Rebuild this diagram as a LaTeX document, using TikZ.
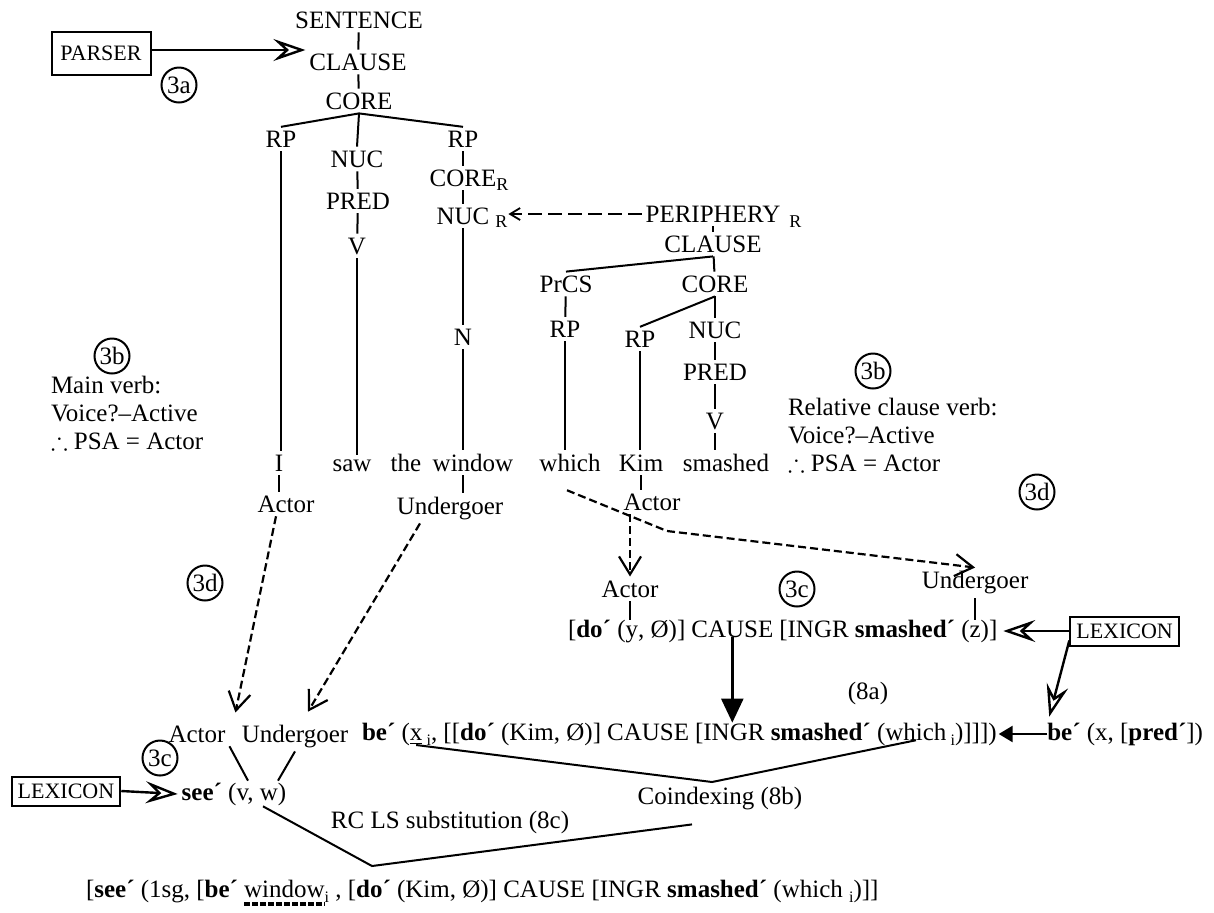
\documentclass[tikz,border=0pt]{standalone}
\usepackage{fontspec}
\setmainfont{Liberation Serif}
\usepackage{amssymb}
\usetikzlibrary{arrows.meta,calc,positioning}
\newcommand{\subi}{\raisebox{-0.5ex}{\footnotesize i}}
\tikzset{
	lbl/.style={inner sep=1.5pt, font=\fontsize{12.5}{14}\selectfont},
	word/.style={lbl, anchor=base},
	subR/.style={inner sep=0pt, font=\fontsize{9}{10}\selectfont},
	bit/.style={inner sep=0pt, outer sep=0pt, anchor=base west, font=\fontsize{12.5}{14}\selectfont},
	lexbox/.style={draw, line width=1pt, inner xsep=3pt, inner ysep=0pt, minimum height=14.5pt, font=\fontsize{11}{13}\selectfont},
	circ/.style={draw, circle, line width=1pt, inner sep=0pt, minimum size=17.5pt, font=\fontsize{12.5}{14}\selectfont},
	sidenote/.style={lbl, align=left, anchor=north west, font=\fontsize{12.5}{14}\selectfont},
	openarrow/.style={line width=1.2pt, -{Stealth[open, length=16pt, width=11pt, inset=6pt]}},
	maparrow/.style={line width=1.1pt, dash pattern=on 4pt off 2pt, -{Straight Barb[length=9pt, width=11pt]}},
	periarrow/.style={line width=0.9pt, dash pattern=on 7pt off 3pt, -{Straight Barb[length=5pt, width=6pt]}},
	bigtri/.style={line width=1.2pt, -{Triangle[length=12pt, width=11pt]}},
	smalltri/.style={line width=1.2pt, -{Triangle[length=7pt, width=8pt]}}
}

\begin{document}
\begin{tikzpicture}[x=0.5pt, y=-0.5pt, line width=1pt]
	%%%%% START %%%%%
	\useasboundingbox (0,0) rectangle (1214,912);
	
	% main clause
	\node[lexbox, minimum width=49.5pt, minimum height=21.5pt] (parser) at (101,53) {PARSER};
	\node[circ] (c3a) at (179,85) {3a};
	\node[lbl] (sent) at (359,20) {SENTENCE};
	\node[lbl] (cl1) at (358,62) {CLAUSE};
	\node[lbl] (co1) at (359,101) {CORE};
	\node[lbl] (rp1) at (281,139) {RP};
	\node[lbl] (nuc1) at (357,159) {NUC};
	\node[lbl] (pred1) at (358,201) {PRED};
	\node[lbl] (v1) at (357,246) {V};
	\node[lbl] (rp2) at (463,139) {RP};
	\node[lbl] (co2) at (463,178) {CORE};
	\node[subR, anchor=west] (coRs) at ($(co2.east)+(-5,7)$) {R};
	\node[lbl] (nuc2) at (463,216) {NUC};
	\node[subR, anchor=west] (nucRs) at ($(nuc2.east)+(1,6)$) {R};
	\node[lbl] (n1) at (463,337) {N};
	
	\draw[openarrow] (parser.east |- 0,50) -- (cl1.north west |- 0,50);
	\draw (sent) -- (cl1);
	\draw (cl1) -- (co1);
	\draw (co1.south) -- (rp1.north);
	\draw (co1.south) -- (nuc1.north);
	\draw (co1.south) -- (rp2.north);
	\draw (nuc1) -- (pred1);
	\draw (pred1) -- (v1);
	\draw (rp2) -- (co2);
	\draw (co2) -- (nuc2);
	\draw (nuc2) -- (n1);
	
	% relative clause
	\node[lbl] (peri) at (713,214) {PERIPHERY};
	\node[subR, anchor=west] (periRs) at ($(peri.east)+(4,8)$) {R};
	\node[lbl] (cl2) at (713,244) {CLAUSE};
	\node[lbl] (prcs) at (566,284) {PrCS};
	\node[lbl] (co3) at (715,284) {CORE};
	\node[lbl] (rp3) at (565,329) {RP};
	\node[lbl] (rp4) at (640,339) {RP};
	\node[lbl] (nuc3) at (715,330) {NUC};
	\node[lbl] (pred2) at (715,372) {PRED};
	\node[lbl] (v2) at (715,421) {V};
	
	\draw[periarrow] (peri.west) -- (peri.west -| nucRs.east);
	\draw (peri) -- (cl2);
	\draw (cl2.south) -- (prcs.north);
	\draw (cl2) -- (co3);
	\draw (prcs) -- (rp3);
	\draw (co3.south) -- (rp4.north);
	\draw (co3) -- (nuc3);
	\draw (nuc3) -- (pred2);
	\draw (pred2) -- (v2);
	
	% the sentence
	\node[word] (wI) at (279,471) {I};
	\node[word] (saw) at (352,471) {saw};
	\node[word] (the) at (406,471) {the};
	\node[word] (win) at (473,471) {window};
	\node[word] (wh1) at (570,471) {which};
	\node[word] (kim) at (641,471) {Kim};
	\node[word] (sm) at (726,471) {smashed};
	
	\draw (rp1) -- (rp1 |- wI.north);
	\draw (v1) -- (v1 |- saw.north);
	\draw (n1) -- (n1 |- win.north);
	\draw (rp3) -- (rp3 |- wh1.north);
	\draw (rp4) -- (rp4 |- kim.north);
	\draw (v2) -- (v2 |- sm.north);
	
	% notes
	\node[circ] (c3b) at (112,356) {3b};
	\node[sidenote] (note1) at (47,372) {Main verb:\\Voice?–Active\\$\therefore$ PSA = Actor};
	\node[circ] (c3b2) at (873,371) {3b};
	\node[sidenote] (note2) at (784,394) {Relative clause verb:\\Voice?–Active\\$\therefore$ PSA = Actor};
	\node[circ] (c3d) at (1037,492) {3d};
	\node[circ] (c3d2) at (205,583) {3d};
	\node[circ] (c3c) at (797,589) {3c};
	\node[circ] (c3c2) at (160,758) {3c};
	
	% macroroles
	\node[word] (act1) at (286,512) {Actor};
	\node[word] (und1) at (450,514) {Undergoer};
	\node[word] (act2) at (652,510) {Actor};
	\node[word] (act4) at (630,597) {Actor};
	
	\draw (wI) -- (wI |- act1.north);
	\draw (win.south -| n1) -- (n1 |- und1.north);
	\draw (kim) -- (kim |- act2.north);
	
	% logical structure of smash
	\node[bit] (ls1) at (568,637) {[\textbf{do´} (};
	\node[bit] (lsy) at (ls1.base east) {y};
	\node[bit] (ls2) at (lsy.base east) {, Ø)]};
	\node[bit] (lsc) at ($(ls2.base east)+(6,0)$) {CAUSE};
	\node[bit] (ls3) at ($(lsc.base east)+(6,0)$) {[INGR \textbf{smashed´} (};
	\node[bit] (lsz) at (ls3.base east) {z};
	\node[bit] (ls4) at (lsz.base east) {)]};
	\node[word] (und4) at (lsz |- act4) {Undergoer};
	\node[lexbox, right=36pt of ls4] (lexR) {LEXICON};
	
	\draw (act4) -- (act4 |- ls1.north);
	\draw (und4) -- (und4 |- ls1.north);
	\draw[maparrow] (act4 |- act2.south) -- (act4.north);
	\coordinate (bend) at (667,531);
	\draw[maparrow] ($(wh1.south)+(-3,15)$) -- (bend) -- (und4.north);
	\draw[openarrow, shorten >=3pt] (lexR.west) -- (lexR.west -| ls4.east);
	
	% relative clause LS
	\node[word] (act3) at (197,742) {Actor};
	\node[word] (und3) at (295,742) {Undergoer};
	\node[bit] (lb1) at (362,740) {\textbf{be´} (};
	\node[bit] (lbx) at (lb1.base east) {\underline{x}};
	\node[bit] (lb2) at (lbx.base east) {\,\subi, [[\textbf{do´} (Kim, Ø)]};
	\node[bit] (lbc) at ($(lb2.base east)+(6,0)$) {CAUSE};
	\node[bit] (lb3) at ($(lbc.base east)+(6,0)$) {[INGR \textbf{smashed´} (};
	\node[bit] (lbw) at (lb3.base east) {which};
	\node[bit] (lb4) at (lbw.base east) {\,\subi)]]])};
	\node[bit, anchor=base east] (bepred) at (1203,740) {\textbf{be´} (x, [\textbf{pred´}])};
	\node[word] (c8a) at (868,699) {(8a)};
	
	\draw[maparrow] ($(act1.south)+(-10,0)$) -- ($(act3.north east)+(6,-9)$);
	\draw[maparrow] ($(und1.south)+(-30,0)$) -- ($(und3.north)+(13,-9)$);
	\draw[bigtri] (lsc.south) -- (lsc.south |- lb1.north);
	\draw[smalltri, shorten >=1pt] (bepred.west) -- (bepred.west -| lb4.east);
	\draw[openarrow] ($(lexR.south west)+(0,-6)$) -- ($(bepred.north west)+(2,-6)$);
	
	% see and coindexing
	\node[lexbox] (lexL) at (66,791) {LEXICON};
	\node[word] (see) at (234,800) {\textbf{see´} (v, w)};
	\node[word] (coin) at (720,804) {Coindexing (8b)};
	\node[word] (rcls) at (450,828) {RC LS substitution (8c)};
	\coordinate (cov) at (712,782);
	\coordinate (rcv) at (372,866);
	
	\draw[openarrow] (lexL.east) -- (see.west);
	\draw (act3.south east) -- ($(see.north)+(14,2)$);
	\draw (und3.south) -- ($(see.north)+(44,2)$);
	\draw (lbx.south) -- (cov) -- (lbw.south);
	\draw ($(see.south)+(29,-3)$) -- (rcv) -- ($(coin.south)+(-28,11)$);
	
	% result
	\node[bit] (f1) at (86,897) {[\textbf{see´} (1sg, [\textbf{be´}};
	\node[bit] (fwin) at ($(f1.base east)+(6,0)$) {window};
	\node[bit] (f2) at (fwin.base east) {\subi\ , [\textbf{do´} (Kim, Ø)] CAUSE [INGR \textbf{smashed´} (which \subi)]]};
	\draw[line width=2pt, dash pattern=on 3pt off 1pt] ($(fwin.base west)+(0,7)$) -- ($(fwin.base east)+(0,7)$);
	
	%%%%% END %%%%%
\end{tikzpicture}
\end{document}
